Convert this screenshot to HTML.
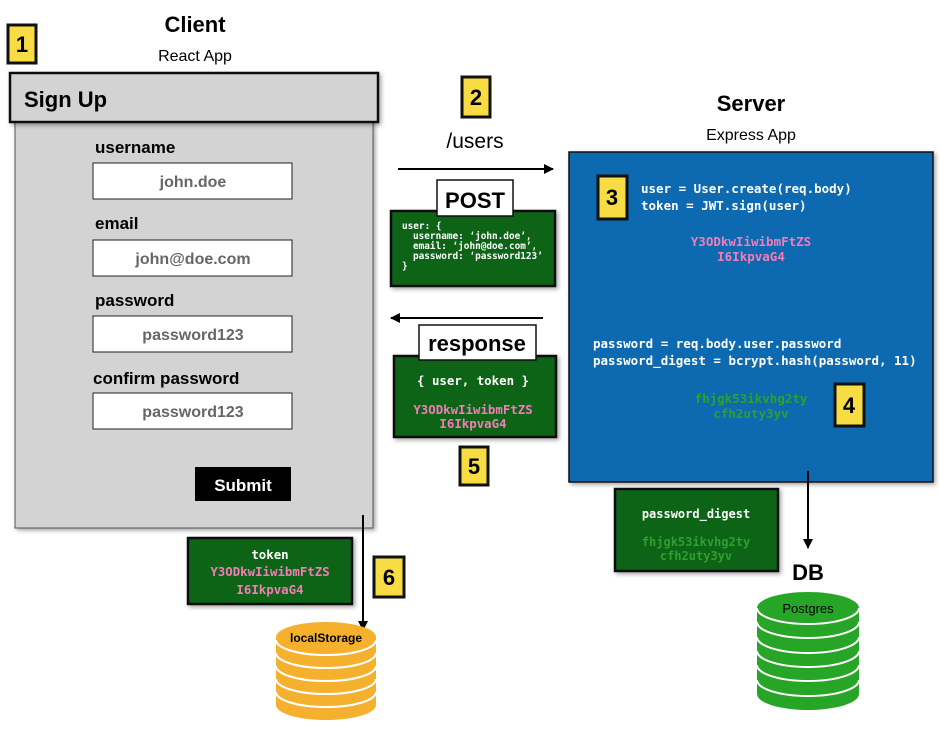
<!DOCTYPE html>
<html><head><meta charset="utf-8"><style>
html,body{margin:0;padding:0;background:#fff;}
svg{display:block;}
.s{font-family:"Liberation Sans",sans-serif;}
.m{font-family:"DejaVu Sans Mono","Liberation Mono",monospace;font-weight:bold;}
</style></head><body>
<svg width="940" height="747" viewBox="0 0 940 747" xmlns="http://www.w3.org/2000/svg">
<defs>
<marker id="ah" markerWidth="10" markerHeight="10" refX="9" refY="5" orient="auto" markerUnits="userSpaceOnUse"><path d="M0,0 L10,5 L0,10 Z" fill="#000"/></marker>
<filter id="sh" x="-10%" y="-10%" width="130%" height="130%"><feDropShadow dx="2" dy="2" stdDeviation="2" flood-opacity="0.35"/></filter>
</defs>

<!-- Client -->
<text x="195" y="32" text-anchor="middle" class="s" font-size="22" font-weight="bold">Client</text>
<text x="195" y="61" text-anchor="middle" class="s" font-size="16">React App</text>
<rect x="15" y="100" width="358" height="428" fill="#d3d3d3" stroke="#555" stroke-width="1" filter="url(#sh)"/>
<rect x="10" y="73" width="368" height="49" fill="#d3d3d3" stroke="#111" stroke-width="2.5" filter="url(#sh)"/>
<text x="24" y="107" class="s" font-size="22" font-weight="bold">Sign Up</text>

<text x="95" y="153" class="s" font-size="17" font-weight="bold">username</text>
<rect x="93" y="163" width="199" height="36" fill="#fff" stroke="#222"/>
<text x="193" y="187" text-anchor="middle" class="s" font-size="16" font-weight="bold" fill="#666">john.doe</text>
<text x="95" y="229" class="s" font-size="17" font-weight="bold">email</text>
<rect x="93" y="240" width="199" height="36" fill="#fff" stroke="#222"/>
<text x="193" y="264" text-anchor="middle" class="s" font-size="16" font-weight="bold" fill="#666">john@doe.com</text>
<text x="95" y="306" class="s" font-size="17" font-weight="bold">password</text>
<rect x="93" y="316" width="199" height="36" fill="#fff" stroke="#222"/>
<text x="193" y="340" text-anchor="middle" class="s" font-size="16" font-weight="bold" fill="#666">password123</text>
<text x="93" y="384" class="s" font-size="17" font-weight="bold">confirm password</text>
<rect x="93" y="393" width="199" height="36" fill="#fff" stroke="#222"/>
<text x="193" y="417" text-anchor="middle" class="s" font-size="16" font-weight="bold" fill="#666">password123</text>
<rect x="195" y="467" width="96" height="34" fill="#000"/>
<text x="243" y="491" text-anchor="middle" class="s" font-size="17" font-weight="bold" fill="#fff">Submit</text>

<!-- /users arrows -->
<text x="475" y="148" text-anchor="middle" class="s" font-size="21">/users</text>
<line x1="398" y1="169" x2="553" y2="169" stroke="#000" stroke-width="2" marker-end="url(#ah)"/>
<rect x="391" y="211" width="164" height="75" fill="#0b6319" stroke="#111" stroke-width="2.5" filter="url(#sh)"/>
<rect x="437" y="180" width="76" height="36" fill="#fff" stroke="#111" stroke-width="1.5"/>
<text x="475" y="208" text-anchor="middle" class="s" font-size="22" font-weight="bold">POST</text>
<g class="m" font-size="9.4" fill="#fff">
<text x="402" y="229">user: {</text>
<text x="413" y="239">username: ‘john.doe’,</text>
<text x="413" y="249">email: ‘john@doe.com’,</text>
<text x="413" y="259">password: ‘password123’</text>
<text x="402" y="269">}</text>
</g>

<line x1="543" y1="318" x2="391" y2="318" stroke="#000" stroke-width="2" marker-end="url(#ah)"/>
<rect x="394" y="356" width="162" height="81" fill="#0b6319" stroke="#111" stroke-width="2.5" filter="url(#sh)"/>
<rect x="419" y="325" width="117" height="35" fill="#fff" stroke="#111" stroke-width="1.5"/>
<text x="477" y="351" text-anchor="middle" class="s" font-size="22" font-weight="bold">response</text>
<g class="m" font-size="12.4" text-anchor="middle">
<text x="473" y="385" fill="#fff">{ user, token }</text>
<text x="473" y="414" fill="#f47cb8">Y3ODkwIiwibmFtZS</text>
<text x="473" y="428" fill="#f47cb8">I6IkpvaG4</text>
</g>

<!-- Server -->
<text x="751" y="111" text-anchor="middle" class="s" font-size="22" font-weight="bold">Server</text>
<text x="751" y="140" text-anchor="middle" class="s" font-size="16">Express App</text>
<rect x="569" y="152" width="364" height="330" fill="#0769b0" stroke="#111" stroke-width="1.5" filter="url(#sh)"/>
<g class="m" font-size="12.5" fill="#fff">
<text x="641" y="193">user = User.create(req.body)</text>
<text x="641" y="210">token = JWT.sign(user)</text>
<text x="593" y="348">password = req.body.user.password</text>
<text x="593" y="365">password_digest = bcrypt.hash(password, 11)</text>
</g>
<g class="m" font-size="12.5" text-anchor="middle">
<text x="751" y="246" fill="#f47cb8">Y3ODkwIiwibmFtZS</text>
<text x="751" y="261" fill="#f47cb8">I6IkpvaG4</text>
<text x="751" y="403" fill="#2ea02e">fhjgk53ikvhg2ty</text>
<text x="751" y="418" fill="#2ea02e">cfh2uty3yv</text>
</g>

<line x1="808" y1="471" x2="808" y2="548" stroke="#000" stroke-width="2" marker-end="url(#ah)"/>
<rect x="615" y="489" width="163" height="82" fill="#0b6319" stroke="#111" stroke-width="2.5" filter="url(#sh)"/>
<g class="m" font-size="12" text-anchor="middle">
<text x="696" y="518" fill="#fff">password_digest</text>
<text x="696" y="546" fill="#2ea02e">fhjgk53ikvhg2ty</text>
<text x="696" y="560" fill="#2ea02e">cfh2uty3yv</text>
</g>
<text x="808" y="580" text-anchor="middle" class="s" font-size="22" font-weight="bold">DB</text>

<!-- Postgres cylinder -->
<g fill="#26a526" stroke="none">
<path d="M757,680 L757,694 A51,16 0 0 0 859,694 L859,680 Z"/>
<path d="M757,665 L757,680 A51,16 0 0 0 859,680 L859,665 Z"/><path d="M757,680 A51,16 0 0 0 859,680" fill="none" stroke="#fff" stroke-width="2"/>
<path d="M757,651 L757,665 A51,16 0 0 0 859,665 L859,651 Z"/><path d="M757,665 A51,16 0 0 0 859,665" fill="none" stroke="#fff" stroke-width="2"/>
<path d="M757,637 L757,651 A51,16 0 0 0 859,651 L859,637 Z"/><path d="M757,651 A51,16 0 0 0 859,651" fill="none" stroke="#fff" stroke-width="2"/>
<path d="M757,622 L757,637 A51,16 0 0 0 859,637 L859,622 Z"/><path d="M757,637 A51,16 0 0 0 859,637" fill="none" stroke="#fff" stroke-width="2"/>
<path d="M757,608 L757,622 A51,16 0 0 0 859,622 L859,608 Z"/><path d="M757,622 A51,16 0 0 0 859,622" fill="none" stroke="#fff" stroke-width="2"/>
<ellipse cx="808" cy="608" rx="51" ry="16"/><path d="M757,608 A51,16 0 0 0 859,608" fill="none" stroke="#fff" stroke-width="2"/>
</g>
<text x="808" y="613" text-anchor="middle" class="s" font-size="13">Postgres</text>

<!-- token box & localStorage -->
<line x1="363" y1="515" x2="363" y2="630" stroke="#000" stroke-width="2" marker-end="url(#ah)"/>
<rect x="188" y="538" width="164" height="66" fill="#0b6319" stroke="#111" stroke-width="2.5" filter="url(#sh)"/>
<g class="m" font-size="12.4" text-anchor="middle">
<text x="270" y="559" fill="#fff">token</text>
<text x="270" y="576" fill="#f47cb8">Y3ODkwIiwibmFtZS</text>
<text x="270" y="594" fill="#f47cb8">I6IkpvaG4</text>
</g>
<g fill="#f5b12e" stroke="none">
<path d="M276,692 L276,705 A50,15 0 0 0 376,705 L376,692 Z"/>
<path d="M276,679 L276,692 A50,15 0 0 0 376,692 L376,679 Z"/><path d="M276,692 A50,15 0 0 0 376,692" fill="none" stroke="#fff" stroke-width="2"/>
<path d="M276,666 L276,679 A50,15 0 0 0 376,679 L376,666 Z"/><path d="M276,679 A50,15 0 0 0 376,679" fill="none" stroke="#fff" stroke-width="2"/>
<path d="M276,653 L276,666 A50,15 0 0 0 376,666 L376,653 Z"/><path d="M276,666 A50,15 0 0 0 376,666" fill="none" stroke="#fff" stroke-width="2"/>
<path d="M276,640 L276,653 A50,15 0 0 0 376,653 L376,640 Z"/><path d="M276,653 A50,15 0 0 0 376,653" fill="none" stroke="#fff" stroke-width="2"/>
<path d="M276,637 L276,640 A50,15 0 0 0 376,640 L376,637 Z"/><path d="M276,640 A50,15 0 0 0 376,640" fill="none" stroke="#fff" stroke-width="2"/>
<ellipse cx="326" cy="637" rx="50" ry="15"/>
</g>
<text x="326" y="642" text-anchor="middle" class="s" font-size="12" font-weight="bold">localStorage</text>

<!-- badges (drawn last so they sit on top) -->
<g class="s" font-size="22" font-weight="bold" text-anchor="middle">
<rect x="8" y="25" width="28" height="38" fill="#f7dc43" stroke="#111" stroke-width="3"/><text x="22" y="52">1</text>
<rect x="462" y="77" width="28" height="40" fill="#f7dc43" stroke="#111" stroke-width="3"/><text x="476" y="105">2</text>
<rect x="598" y="176" width="29" height="43" fill="#f7dc43" stroke="#111" stroke-width="3"/><text x="612" y="205">3</text>
<rect x="835" y="384" width="29" height="42" fill="#f7dc43" stroke="#111" stroke-width="3"/><text x="849" y="413">4</text>
<rect x="460" y="447" width="28" height="38" fill="#f7dc43" stroke="#111" stroke-width="3"/><text x="474" y="474">5</text>
<rect x="374" y="557" width="30" height="40" fill="#f7dc43" stroke="#111" stroke-width="3"/><text x="389" y="585">6</text>
</g>
</svg>
</body></html>
